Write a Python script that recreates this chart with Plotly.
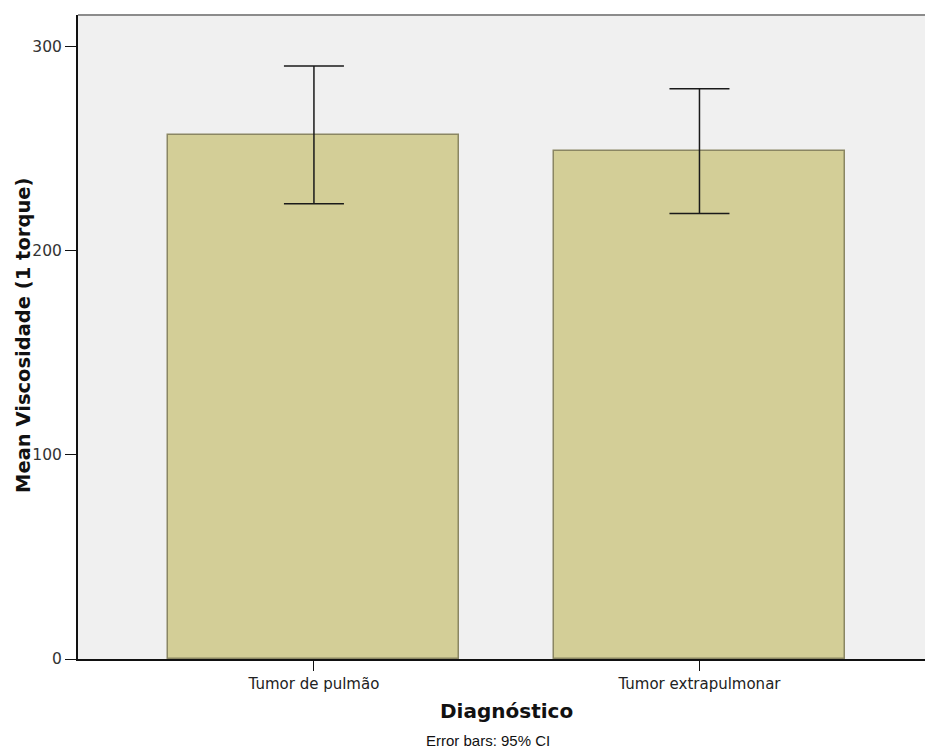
import plotly.graph_objects as go

categories = ["Tumor de pulmão", "Tumor extrapulmonar"]
means = [256.8, 249.1]
ci_upper = [290.5, 279.4]
ci_lower = [223.0, 218.2]
y_ticks = [0, 100, 200, 300]

err_plus = [u - m for u, m in zip(ci_upper, means)]
err_minus = [m - l for m, l in zip(means, ci_lower)]

W, H = 925, 753
L, T, B, R = 78, 15, 94, 0
PW, PH = W - L - R, H - T - B
OX, OY = L, T  # screen px of plot top-left (body margin removed)


def px(x):
    return (x - OX) / PW


def py(y):
    return (OY + PH - y) / PH


fig = go.Figure()
fig.add_trace(go.Bar(
    x=[0, 1], y=means, width=0.755,
    marker=dict(color="#d3ce97", line=dict(color="#8a8663", width=1.5)),
    error_y=dict(type="data", symmetric=False, array=err_plus, arrayminus=err_minus,
                 color="#1a1a1a", thickness=1.5, width=30),
    hoverinfo="skip",
))

fig.update_layout(
    width=W, height=H,
    margin=dict(l=L, r=R, t=T, b=B),
    paper_bgcolor="white", plot_bgcolor="#f0f0f0",
    font=dict(family="DejaVu Sans, Verdana, sans-serif", color="#111"),
    showlegend=False,
    bargap=0,
    xaxis=dict(
        range=[-0.612, 1.585], tickmode="array", tickvals=[0, 1], ticktext=categories,
        ticks="outside", ticklen=10, tickcolor="#111", tickwidth=1,
        showline=True, linecolor="#111", linewidth=2, showgrid=False, zeroline=False,
        tickfont=dict(size=15, color="#222"),
    ),
    yaxis=dict(
        range=[0, 315.5], tickmode="array", tickvals=y_ticks,
        ticks="outside", ticklen=11, tickcolor="#111", tickwidth=1,
        showline=True, linecolor="#111", linewidth=2, showgrid=False, zeroline=False,
        tickfont=dict(size=15.5, color="#333"),
    ),
    shapes=[dict(type="line", xref="paper", yref="paper", x0=0, x1=1, y0=1, y1=1,
                 line=dict(color="#8c8c8c", width=2))],
    annotations=[
        dict(text="<b>Mean Viscosidade (1 torque)</b>", xref="paper", yref="paper",
             x=px(23), y=py(336), textangle=-90, showarrow=False,
             font=dict(size=19.5), xanchor="center", yanchor="middle"),
        dict(text="<b>Diagnóstico</b>", xref="paper", yref="paper",
             x=px(507), y=py(711), showarrow=False,
             font=dict(size=20), xanchor="center", yanchor="middle"),
        dict(text="Error bars: 95% CI", xref="paper", yref="paper",
             x=px(488), y=py(740), showarrow=False,
             font=dict(size=15, family="Liberation Sans, Arial, sans-serif"),
             xanchor="center", yanchor="middle"),
    ],
)

fig.write_html("out.html", config={"displayModeBar": False},
               post_script="document.body.style.margin='0';document.body.style.overflow='hidden';")
